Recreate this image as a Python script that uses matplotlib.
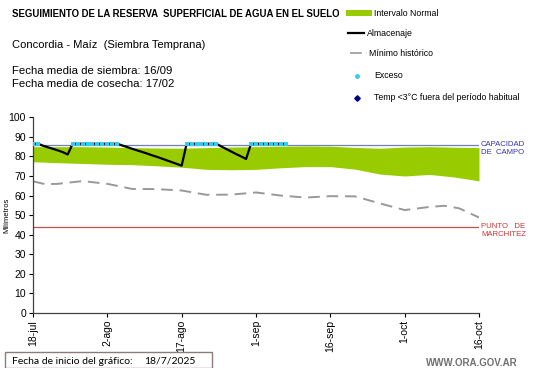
import numpy as np
import matplotlib.pyplot as plt
from matplotlib.patches import Rectangle
from matplotlib.lines import Line2D

plt.rcParams['font.family'] = ['Liberation Sans', 'DejaVu Sans']

# x = days since 18-jul
tick_days = [0, 15, 30, 45, 60, 75, 90]
tick_labels = ["18-jul", "2-ago", "17-ago", "1-sep", "16-sep", "1-oct", "16-oct"]

# intervalo normal (every 5 days)
band_days = [0, 5, 10, 15, 20, 25, 30, 35, 40, 45, 50, 55, 60, 65, 70, 75, 80, 85, 90]
band_upper = [85.0, 85.0, 85.0, 84.8, 84.5, 84.3, 84.2, 84.5, 84.8, 85.0, 85.2, 85.3,
              85.2, 84.6, 84.2, 84.8, 85.0, 84.7, 84.5]
band_lower = [77.3, 76.8, 76.4, 76.0, 75.8, 75.2, 74.5, 73.4, 73.2, 73.4, 74.2, 74.8,
              74.8, 73.5, 71.0, 70.0, 70.8, 69.5, 67.5]

# minimo historico
min_days = [0, 2.5, 5, 10, 15, 20, 25, 30, 35, 40, 45, 50, 55, 60, 65, 70, 75, 80, 83, 86, 90]
min_hist = [67.3, 65.8, 66.0, 67.4, 66.0, 63.4, 63.3, 62.6, 60.4, 60.5, 61.6, 60.0,
            59.0, 59.7, 59.6, 56.0, 52.6, 54.2, 54.8, 53.5, 48.8]

# almacenaje diario desde 18-jul
almacenaje = [86.5, 86.5, 85.5, 84.7, 83.9, 83.1, 82.2, 81.0,
              86.5, 86.5, 86.5, 86.5, 86.5, 86.5, 86.5, 86.5, 86.5, 86.5,
              85.6, 84.8, 83.9, 83.1, 82.3, 81.5, 80.6, 79.8, 78.9, 78.0, 77.1, 76.2, 75.3,
              86.5, 86.5, 86.5, 86.5, 86.5, 86.5, 86.5,
              85.1, 83.8, 82.5, 81.2, 80.0, 78.7,
              86.5, 86.5, 86.5, 86.5, 86.5, 86.5, 86.5, 86.5]
exceso_days = [0, 1] + list(range(8, 18)) + list(range(31, 38)) + list(range(44, 52))

capacidad = 86
marchitez = 44

fig = plt.figure(figsize=(5.41, 3.68), dpi=100)
ax = fig.add_axes([33/541, 1-313/368, (479-33)/541, (313-117.3)/368])

ax.fill_between(band_days, band_lower, band_upper, color='#99cc00', lw=0, zorder=1)
ax.plot(min_days, min_hist, color='#999999', lw=1.4, dashes=(6, 3.5), zorder=2)
ax.axhline(capacidad, color='#7080b8', lw=0.9, zorder=2)
ax.axhline(marchitez, color='#c0504d', lw=0.9, zorder=2)

days = np.arange(len(almacenaje))
ax.plot(days, almacenaje, color='black', lw=1.6, zorder=3)
ax.plot(exceso_days, [almacenaje[d] for d in exceso_days], ls='none', marker='s',
        ms=2.8, mfc='#33ccee', mec='#33ccee', mew=0, zorder=4)

ax.text(90.4, 84.0, "CAPACIDAD\nDE  CAMPO", color='#3333aa', fontsize=5.6,
        va='center', ha='left', linespacing=1.2)
ax.text(90.4, 42.0, "PUNTO   DE\nMARCHITEZ", color='#cc3333', fontsize=5.6,
        va='center', ha='left', linespacing=1.2)

ax.set_xlim(0, 90)
ax.set_ylim(0, 100)
ax.set_xticks(tick_days)
ax.set_xticklabels(tick_labels, rotation=90, fontsize=7.5)
ax.set_yticks(range(0, 101, 10))
ax.tick_params(axis='y', labelsize=7.5, length=3, direction='out', width=0.8, pad=2)
ax.tick_params(axis='x', length=3, direction='out', width=0.8, pad=2)
for s in ['top', 'right']:
    ax.spines[s].set_visible(False)
for s in ['left', 'bottom']:
    ax.spines[s].set_color('#404040')
    ax.spines[s].set_linewidth(0.9)
fig.text(7/541, 1-215/368, "Milímetros", fontsize=5.5, rotation=90, va='center', ha='center')

# header texts
fig.text(12/541, 1-14/368, "SEGUIMIENTO DE LA RESERVA  SUPERFICIAL DE AGUA EN EL SUELO",
         fontsize=6.95, fontweight='bold', va='center')
fig.text(12/541, 1-45/368, "Concordia - Maíz  (Siembra Temprana)", fontsize=8, va='center')
fig.text(12/541, 1-71/368, "Fecha media de siembra: 16/09", fontsize=8.2, va='center')
fig.text(12/541, 1-84/368, "Fecha media de cosecha: 17/02", fontsize=8.2, va='center')

# legend
lx0, lx1, tx = 346/541, 372/541, 374/541
fig.patches.append(Rectangle((lx0, 1-16/368), lx1-lx0, 6/368, transform=fig.transFigure,
                             color='#99cc00', lw=0))
fig.text(tx, 1-13/368, "Intervalo Normal", fontsize=6.3, va='center')
fig.lines.append(Line2D([348/541, 364/541], [1-33/368]*2, transform=fig.transFigure,
                        color='black', lw=1.6))
fig.text(367/541, 1-34/368, "Almacenaje", fontsize=6.3, va='center')
fig.lines.append(Line2D([350/541, 367/541], [1-53/368]*2, transform=fig.transFigure,
                        color='#999999', lw=1.2, dashes=(7, 3)))
fig.text(369/541, 1-54/368, "Mínimo histórico", fontsize=6.3, va='center')
fig.lines.append(Line2D([357/541], [1-76/368], transform=fig.transFigure, ls='none',
                        marker='o', ms=2.5, mfc='#33ccee', mec='#33ccee'))
fig.text(tx, 1-76/368, "Exceso", fontsize=6.3, va='center')
fig.lines.append(Line2D([357/541], [1-98/368], transform=fig.transFigure, ls='none',
                        marker='D', ms=2.8, mfc='#000080', mec='#000080'))
fig.text(tx, 1-98/368, "Temp <3°C fuera del período habitual", fontsize=6.3, va='center')

# footer
fig.patches.append(Rectangle((5/541, 1-367.5/368), 207/541, 15.5/368, transform=fig.transFigure,
                             fill=False, ec='#8c7b7b', lw=1))
fig.text(12/541, 1-361/368, "Fecha de inicio del gráfico:", fontsize=7.5, va='center',
         family=['Lato', 'DejaVu Sans'])
fig.text(144/541, 1-361/368, "18/7/2025", fontsize=7.5, va='center',
         family=['Lato', 'DejaVu Sans'])
fig.text(518/541, 1-363/368, "WWW.ORA.GOV.AR", fontsize=7, fontweight='bold', color='#707070',
         va='center', ha='right')

fig.savefig("out.png", dpi=100)
